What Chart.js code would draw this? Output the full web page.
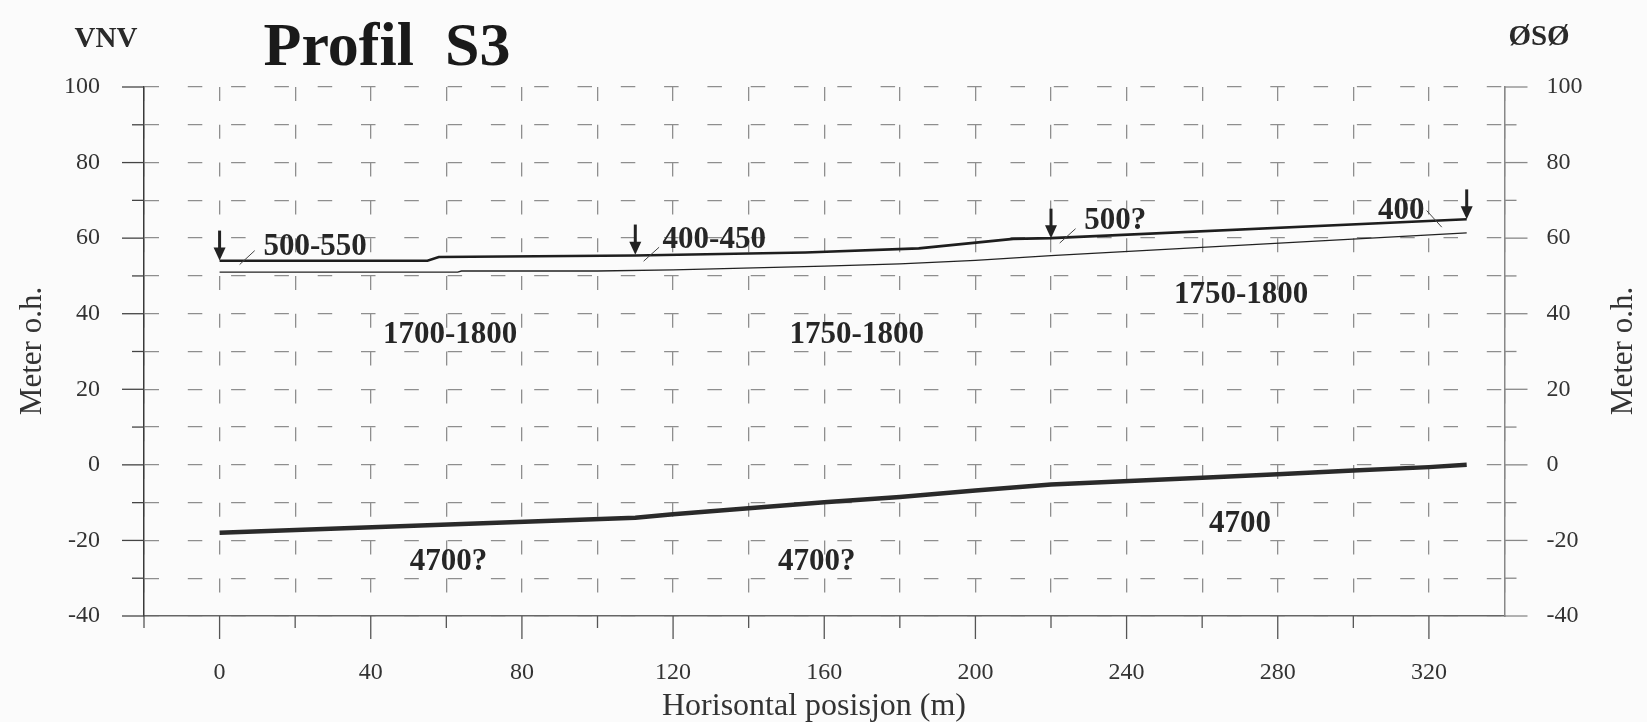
<!DOCTYPE html>
<html>
<head>
<meta charset="utf-8">
<title>Profil S3</title>
<script src="https://cdn.jsdelivr.net/npm/chart.js"></script>
<style>
  html, body { margin: 0; padding: 0; background: #fbfbfb; }
  canvas { display: block; }
</style>
</head>
<body>
<canvas id="profil" width="1647" height="722"></canvas>
<script>
// terrain surface (thick upper line)
const surfaceX = [0, 55, 58, 110, 155, 185, 210, 220, 330];
const surfaceY = [54, 54, 55, 55.4, 56.2, 57.3, 59.8, 60, 65];

// first refractor (thin line)
const layerX = [0, 63, 64, 100, 120, 160, 180, 200, 220, 330];
const layerY = [51, 51, 51.3, 51.3, 51.6, 52.6, 53.2, 54.1, 55.4, 61.4];

// bedrock refractor (thick lower line)
const rockX = [0, 110, 120, 140, 160, 180, 200, 220, 260, 280, 300, 320, 330];
const rockY = [-18, -14, -13.1, -11.5, -9.9, -8.5, -6.8, -5.2, -3.4, -2.5, -1.5, -0.6, 0];

// shot points (arrows)
const shotX = [0, 110, 220, 330];
const shotTop = [62, 63.6, 67.8, 72.9];
const shotTip = [54.1, 55.6, 60, 65];

// velocities in m/s, anchored in data units
const velText = ['500-550', '400-450', '500?', '400', '1700-1800', '1750-1800', '1750-1800', '4700?', '4700?', '4700'];
const velX = [25.3, 130.9, 237, 312.7, 61, 168.6, 270.3, 60.6, 158, 270];
const velY = [57.7, 59.4, 64.5, 67.3, 34.5, 34.5, 44.9, -25.8, -25.8, -15.6];

// little leader strokes from label to line
const leadX1 = [5.3, 112.2, 222.3, 319.4];
const leadY1 = [53.0, 53.9, 58.7, 67.3];
const leadX2 = [9.3, 116.3, 226.5, 323.4];
const leadY2 = [56.7, 57.6, 62.5, 62.9];

// labelled ticks
const xTicks = [0, 40, 80, 120, 160, 200, 240, 280, 320];
const yTicks = [-40, -20, 0, 20, 40, 60, 80, 100];

const serif = '"Liberation Serif", "Times New Roman", serif';
Chart.defaults.font.family = serif;

const pts = (xs, ys) => xs.map((v, i) => ({ x: v, y: ys[i] }));

const overlay = {
    id: 'overlay',
    afterDraw(chart) {
        const { ctx, chartArea: a, scales: { x, y } } = chart;
        const seg = (x1, y1, x2, y2) => {
            ctx.beginPath();
            ctx.moveTo(x1, y1);
            ctx.lineTo(x2, y2);
            ctx.stroke();
        };
        ctx.save();

        // tick marks, long at labelled values
        ctx.lineWidth = 1.3;
        ctx.strokeStyle = '#555';
        x.ticks.forEach(t => {
            if (t.value >= 340) return;
            const px = x.getPixelForValue(t.value);
            seg(px, a.bottom, px, a.bottom + (xTicks.includes(t.value) ? 23 : 12));
        });
        ctx.strokeStyle = '#444';
        y.ticks.forEach(t => {
            const py = y.getPixelForValue(t.value);
            seg(a.left - (yTicks.includes(t.value) ? 22 : 12), py, a.left, py);
        });
        ctx.strokeStyle = '#888';
        y.ticks.forEach(t => {
            const py = y.getPixelForValue(t.value);
            seg(a.right, py, a.right + (yTicks.includes(t.value) ? 23 : 12), py);
        });

        // leader strokes
        ctx.lineWidth = 1;
        ctx.strokeStyle = '#444';
        leadX1.forEach((v, i) => {
            seg(x.getPixelForValue(v), y.getPixelForValue(leadY1[i]),
                x.getPixelForValue(leadX2[i]), y.getPixelForValue(leadY2[i]));
        });

        // shot point arrows
        ctx.fillStyle = '#222';
        ctx.strokeStyle = '#222';
        ctx.lineWidth = 3;
        shotX.forEach((v, i) => {
            const px = x.getPixelForValue(v);
            const top = y.getPixelForValue(shotTop[i]);
            const tip = y.getPixelForValue(shotTip[i]);
            seg(px, top, px, tip - 10);
            ctx.beginPath();
            ctx.moveTo(px - 6, tip - 13);
            ctx.lineTo(px + 6, tip - 13);
            ctx.lineTo(px, tip);
            ctx.closePath();
            ctx.fill();
        });

        // velocity labels
        ctx.font = 'bold 31px ' + serif;
        ctx.fillStyle = '#262626';
        ctx.textAlign = 'center';
        ctx.textBaseline = 'middle';
        velText.forEach((s, i) => {
            ctx.fillText(s, x.getPixelForValue(velX[i]), y.getPixelForValue(velY[i]));
        });

        // headings
        ctx.textBaseline = 'alphabetic';
        ctx.fillStyle = '#1a1a1a';
        ctx.font = 'bold 62px ' + serif;
        ctx.fillText('Profil  S3', 387, 65);
        ctx.font = 'bold 29px ' + serif;
        ctx.fillStyle = '#2a2a2a';
        ctx.fillText('VNV', 106, 47);
        ctx.fillText('ØSØ', 1539, 45);

        // axis titles
        ctx.fillStyle = '#333';
        ctx.font = '32px ' + serif;
        ctx.fillText('Horisontal posisjon (m)', 814, 715);
        ctx.font = '31px ' + serif;
        [41, 1632].forEach(bx => {
            ctx.save();
            ctx.translate(bx, 351);
            ctx.rotate(-Math.PI / 2);
            ctx.fillText('Meter o.h.', 0, 0);
            ctx.restore();
        });
        ctx.restore();
    }
};

const tickFont = { family: serif, size: 24 };

new Chart(document.getElementById('profil').getContext('2d'), {
    type: 'line',
    data: {
        datasets: [{
            data: pts(surfaceX, surfaceY),
            borderColor: '#1e1e1e',
            borderWidth: 2.6
        }, {
            data: pts(layerX, layerY),
            borderColor: '#222',
            borderWidth: 1.3
        }, {
            data: pts(rockX, rockY),
            borderColor: '#2a2a2a',
            borderWidth: 4.5
        }]
    },
    options: {
        responsive: false,
        animation: false,
        devicePixelRatio: 1,
        elements: {
            point: { radius: 0 },
            line: { tension: 0 }
        },
        layout: { padding: { top: 87, left: 0, right: 0, bottom: 0 } },
        plugins: {
            legend: { display: false },
            tooltip: { enabled: false }
        },
        scales: {
            x: {
                type: 'linear',
                min: -20,
                max: 340,
                afterFit: s => { s.height = 106; },
                ticks: {
                    stepSize: 20,
                    autoSkip: false,
                    maxRotation: 0,
                    padding: 19,
                    color: '#333',
                    font: tickFont,
                    callback: v => xTicks.includes(v) ? String(v) : ''
                },
                grid: {
                    color: '#8e8e8e',
                    lineWidth: 1.3,
                    tickLength: 23,
                    tickColor: 'transparent'
                },
                border: { color: '#666', width: 1.5, dash: [14, 23.8] }
            },
            y: {
                position: 'left',
                min: -40,
                max: 100,
                afterFit: s => { s.width = 144; },
                ticks: {
                    stepSize: 10,
                    autoSkip: false,
                    padding: 22,
                    color: '#333',
                    font: tickFont,
                    callback: v => yTicks.includes(v) ? String(v) : ''
                },
                grid: {
                    color: '#8e8e8e',
                    lineWidth: 1.3,
                    tickLength: 22,
                    tickColor: 'transparent'
                },
                border: { color: '#3a3a3a', width: 1.5, dash: [14.5, 28.8] }
            },
            y2: {
                position: 'right',
                min: -40,
                max: 100,
                afterFit: s => { s.width = 142.5; },
                ticks: {
                    stepSize: 10,
                    autoSkip: false,
                    padding: 19,
                    color: '#333',
                    font: tickFont,
                    callback: v => yTicks.includes(v) ? String(v) : ''
                },
                grid: {
                    drawOnChartArea: false,
                    tickLength: 23,
                    tickColor: 'transparent'
                },
                border: { color: '#888', width: 1.5 }
            }
        }
    },
    plugins: [overlay]
});
</script>
</body>
</html>
